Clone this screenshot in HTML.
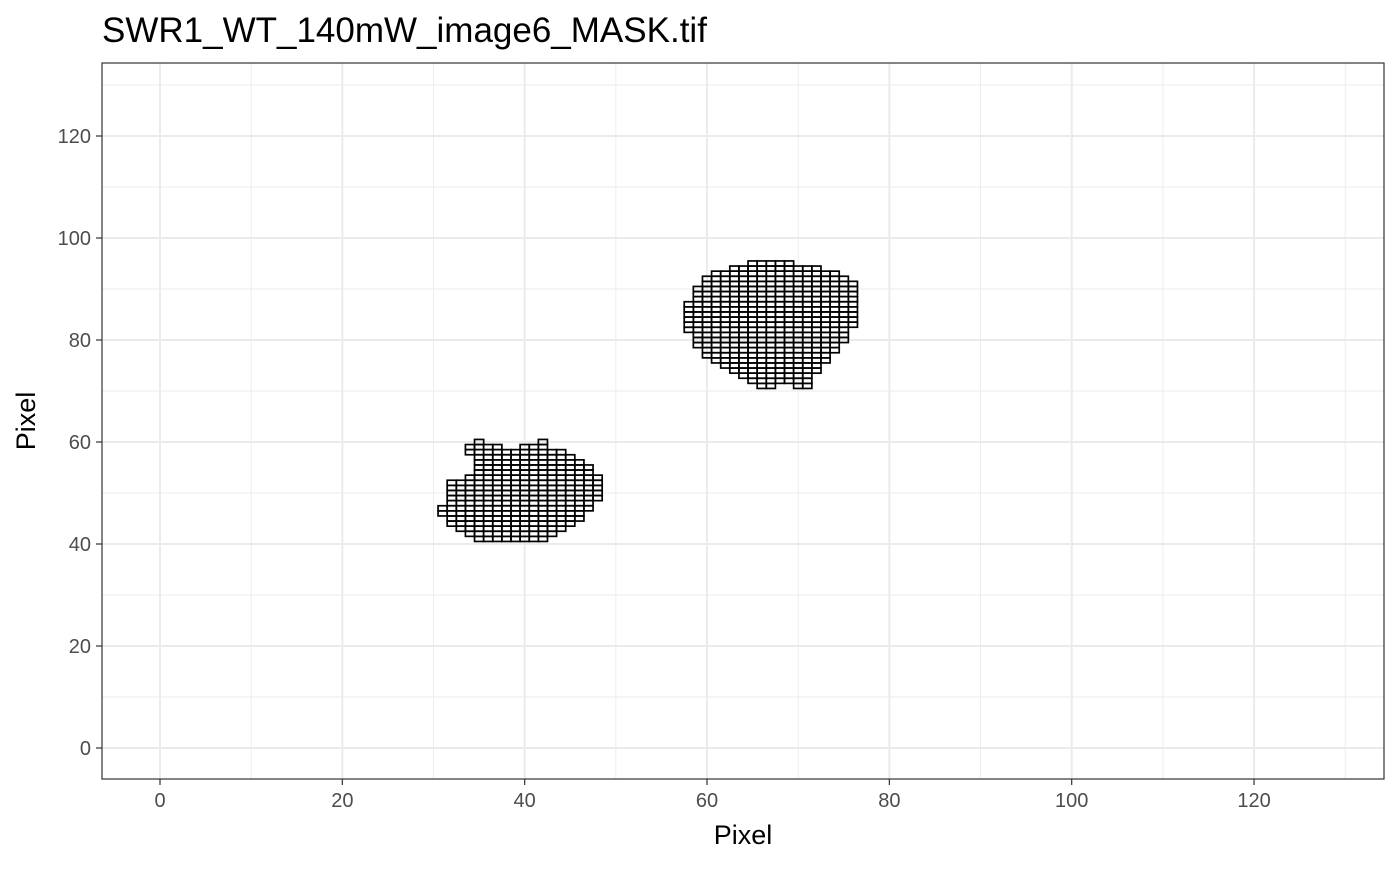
<!DOCTYPE html>
<html><head><meta charset="utf-8"><style>
body{margin:0;background:#fff;}
svg text{font-family:"Liberation Sans",Arial,sans-serif;}
</style></head><body>
<svg id="chart" width="1400" height="866" xmlns="http://www.w3.org/2000/svg">
<text x="102" y="42" font-size="35" fill="#000">SWR1_WT_140mW_image6_MASK.tif</text>
<rect x="102" y="63" width="1282" height="716" fill="#fff"/>
<g id="grid"></g>
<g id="tiles"></g>
<rect x="102" y="63" width="1282" height="716" fill="none" stroke="#333" stroke-width="1.2"/>
<g id="axes"></g>
<text x="743" y="844" font-size="27" text-anchor="middle" fill="#000">Pixel</text>
<text transform="translate(35,421) rotate(-90)" font-size="27" text-anchor="middle" fill="#000">Pixel</text>
</svg>
<script>
const xTicks=[0,20,40,60,80,100,120];
const yTicks=[0,20,40,60,80,100,120];
const minorTicks=[10,30,50,70,90,110,130];
// rows: [y, xStart, xEnd]
const blob1Rows=[[60,35,35],[60,42,42],[59,34,37],[59,40,42],[58,34,44],[57,35,45],[56,35,46],[55,35,47],[54,35,47],[53,34,48],[52,32,48],[51,32,48],[50,32,48],[49,32,48],[48,32,47],[47,31,47],[46,31,46],[45,32,46],[44,32,45],[43,33,44],[42,34,43],[41,35,42]];
const blob2Rows=[[95,65,69],[94,63,72],[93,61,74],[92,60,75],[91,60,76],[90,59,76],[89,59,76],[88,59,76],[87,58,76],[86,58,76],[85,58,76],[84,58,76],[83,58,76],[82,58,75],[81,59,75],[80,59,75],[79,59,74],[78,60,74],[77,60,73],[76,61,73],[75,62,72],[74,63,72],[73,64,71],[72,65,71],[71,66,67],[71,70,71]];
const NS="http://www.w3.org/2000/svg";
const L=102,R=1384,T=63,B=779;
const sx=v=>160+v*9.117, sy=v=>748-v*5.1;
function mk(tag,attrs,parent){const e=document.createElementNS(NS,tag);for(const k in attrs)e.setAttribute(k,attrs[k]);parent.appendChild(e);return e;}
const grid=document.getElementById('grid'),tiles=document.getElementById('tiles'),axes=document.getElementById('axes');
minorTicks.forEach(v=>{
 let a=mk('line',{x1:sx(v),x2:sx(v),y1:T,y2:B,stroke:'#ebebeb','stroke-width':0.9},grid);
 
 
 let b=mk('line',{x1:L,x2:R,y1:sy(v),y2:sy(v),stroke:'#ebebeb','stroke-width':0.9},grid);
 
 
});
xTicks.forEach(v=>{
 let g=mk('line',{x1:sx(v),x2:sx(v),y1:T,y2:B,stroke:'#ebebeb','stroke-width':2},grid);
 
 
 let t=mk('line',{x1:sx(v),x2:sx(v),y1:B,y2:B+6,stroke:'#333','stroke-width':1.2},axes);
 
 
 let l=mk('text',{x:sx(v),y:B+28,'font-size':20,'text-anchor':'middle',fill:'#4d4d4d'},axes);
 l.textContent=v;
 
 
});
yTicks.forEach(v=>{
 let g=mk('line',{x1:L,x2:R,y1:sy(v),y2:sy(v),stroke:'#ebebeb','stroke-width':2},grid);
 
 
 let t=mk('line',{x1:L-6,x2:L,y1:sy(v),y2:sy(v),stroke:'#333','stroke-width':1.2},axes);
 
 
 let l=mk('text',{x:L-11,y:sy(v)+7,'font-size':20,'text-anchor':'end',fill:'#4d4d4d'},axes);
 l.textContent=v;
 
 
});
function drawRows(rows,name){
 rows.forEach(([y,x0,x1])=>{
  for(let x=x0;x<=x1;x++){
   const r=mk('rect',{x:sx(x-0.5),y:sy(y+0.5),width:sx(1)-sx(0),height:sy(0)-sy(1),fill:'none',stroke:'#000','stroke-width':1.7},tiles);
   
   
  }
 });
}
drawRows(blob1Rows,'mask-tile-region-1');
drawRows(blob2Rows,'mask-tile-region-2');
</script>
</body></html>
